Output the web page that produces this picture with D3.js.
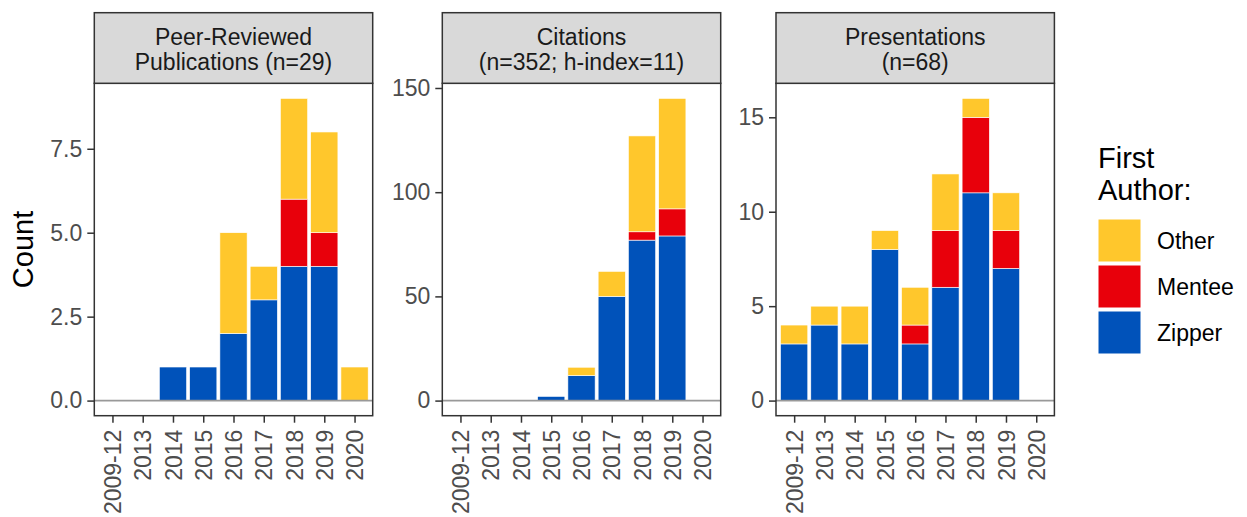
<!DOCTYPE html>
<html>
<head>
<meta charset="utf-8">
<script src="https://cdn.jsdelivr.net/npm/d3@7"></script>
<style>
  body { margin: 0; background: #fff; }
  svg { font-family: "Liberation Sans", Arial, sans-serif; display: block; }
</style>
</head>
<body>
<div id="viz"></div>
<script>
// Data
const years = ["2009-12", "2013", "2014", "2015", "2016", "2017", "2018", "2019", "2020"];
const authors = ["Zipper", "Mentee", "Other"]; // stacking order, bottom to top
const legendOrder = ["Other", "Mentee", "Zipper"];

const pubsZipper = [0, 0, 1, 1, 2, 3, 4, 4, 0];
const pubsMentee = [0, 0, 0, 0, 0, 0, 2, 1, 0];
const pubsOther  = [0, 0, 0, 0, 3, 1, 3, 3, 1];

const citesZipper = [0, 0, 0, 2, 12, 50, 77, 79, 0];
const citesMentee = [0, 0, 0, 0, 0, 0, 4, 13, 0];
const citesOther  = [0, 0, 0, 0, 4, 12, 46, 53, 0];

const presZipper = [3, 4, 3, 8, 3, 6, 11, 7, 0];
const presMentee = [0, 0, 0, 0, 1, 3, 4, 2, 0];
const presOther  = [1, 1, 2, 1, 2, 3, 1, 2, 0];

const pubsTicks = [0, 2.5, 5, 7.5];
const citesTicks = [0, 50, 100, 150];
const presTicks = [0, 5, 10, 15];

const facetTitles = [
    ["Peer-Reviewed", "Publications (n=29)"],
    ["Citations", "(n=352; h-index=11)"],
    ["Presentations", "(n=68)"]
];

const colors = { Other: "#FFC72C", Mentee: "#E8000B", Zipper: "#0052BA" };

const panels = [
    { title: facetTitles[0], series: { Zipper: pubsZipper, Mentee: pubsMentee, Other: pubsOther }, ticks: pubsTicks, fmt: d3.format(".1f") },
    { title: facetTitles[1], series: { Zipper: citesZipper, Mentee: citesMentee, Other: citesOther }, ticks: citesTicks, fmt: d3.format("d") },
    { title: facetTitles[2], series: { Zipper: presZipper, Mentee: presMentee, Other: presOther }, ticks: presTicks, fmt: d3.format("d") }
];

// Layout
const W = 1247, H = 517;
const panelLefts = [94.3, 442.3, 776];
const panelW = 278.4;
const stripTop = 12.7, plotTop = 83.3, plotBottom = 415.7;
const tickFont = 23;

const svg = d3.select("#viz").append("svg")
    .attr("width", W).attr("height", H);

panels.forEach((p, pi) => {
    const left = panelLefts[pi];
    const g = svg.append("g");

    const rows = years.map((y, i) => {
        const r = { year: y };
        authors.forEach(a => r[a] = p.series[a][i]);
        return r;
    });
    const stacked = d3.stack().keys(authors)(rows);
    const maxV = d3.max(rows, r => d3.sum(authors, a => r[a]));

    const x = d3.scalePoint().domain(years).range([left, left + panelW]).padding(0.6);
    const y = d3.scaleLinear().domain([-0.05 * maxV, 1.05 * maxV]).range([plotBottom, plotTop]);
    const bw = x.step() * 0.9;

    // panel background
    g.append("rect")
        .attr("x", left).attr("y", plotTop)
        .attr("width", panelW).attr("height", plotBottom - plotTop)
        .attr("fill", "#fff");

    // bars
    g.selectAll(".layer")
        .data(stacked)
        .join("g")
        .attr("fill", d => colors[d.key])
        .selectAll("rect")
        .data(d => d.filter(s => s[1] - s[0] > 0))
        .join("rect")
        .attr("x", d => x(d.data.year) - bw / 2)
        .attr("width", bw)
        .attr("y", d => y(d[1]))
        .attr("height", d => y(d[0]) - y(d[1]))
        .attr("stroke", "#fff")
        .attr("stroke-width", 0.6);

    // zero line
    g.append("line")
        .attr("x1", left).attr("x2", left + panelW)
        .attr("y1", y(0)).attr("y2", y(0))
        .attr("stroke", "#999").attr("stroke-width", 1.6);

    // panel border
    g.append("rect")
        .attr("x", left).attr("y", plotTop)
        .attr("width", panelW).attr("height", plotBottom - plotTop)
        .attr("fill", "none").attr("stroke", "#333").attr("stroke-width", 1.5);

    // strip
    g.append("rect")
        .attr("x", left).attr("y", stripTop)
        .attr("width", panelW).attr("height", plotTop - stripTop)
        .attr("fill", "#D9D9D9").attr("stroke", "#333").attr("stroke-width", 1.5);
    g.append("text")
        .attr("x", left + panelW / 2).attr("y", stripTop + 32)
        .attr("text-anchor", "middle")
        .style("font-size", tickFont + "px").attr("fill", "#1A1A1A")
        .text(p.title[0]);
    g.append("text")
        .attr("x", left + panelW / 2).attr("y", stripTop + 57)
        .attr("text-anchor", "middle")
        .style("font-size", tickFont + "px").attr("fill", "#1A1A1A")
        .text(p.title[1]);

    // y axis
    const yAxis = g.append("g")
        .attr("transform", `translate(${left},0)`)
        .call(d3.axisLeft(y).tickValues(p.ticks).tickFormat(p.fmt).tickSize(7).tickPadding(5));
    yAxis.select(".domain").remove();
    yAxis.selectAll("line").attr("stroke", "#333").attr("stroke-width", 1.5);
    yAxis.selectAll("text").attr("fill", "#4D4D4D").style("font-size", tickFont + "px")
        .attr("font-family", null);

    // x axis
    const xAxis = g.append("g")
        .attr("transform", `translate(0,${plotBottom})`)
        .call(d3.axisBottom(x).tickSize(7).tickPadding(6));
    xAxis.select(".domain").remove();
    xAxis.selectAll("line").attr("stroke", "#333").attr("stroke-width", 1.5);
    xAxis.selectAll("text")
        .attr("fill", "#4D4D4D").style("font-size", tickFont + "px")
        .attr("font-family", null)
        .attr("transform", "rotate(-90)")
        .attr("text-anchor", "end")
        .attr("x", -14).attr("y", 0).attr("dy", "0.35em");
});

// y axis title
svg.append("text")
    .attr("transform", `translate(33,${(plotTop + plotBottom) / 2}) rotate(-90)`)
    .attr("text-anchor", "middle")
    .style("font-size", "29px")
    .text("Count");

// legend
const legend = svg.append("g").attr("transform", "translate(1098,0)");
legend.append("text").attr("x", 0).attr("y", 168).style("font-size", "29px").text("First");
legend.append("text").attr("x", 0).attr("y", 200).style("font-size", "29px").text("Author:");

legend.selectAll(".key")
    .data(legendOrder)
    .join("rect")
    .attr("x", 0)
    .attr("y", (d, i) => 219 + i * 46)
    .attr("width", 43).attr("height", 43)
    .attr("fill", d => colors[d])
    .attr("stroke", "#fff").attr("stroke-width", 1);

legend.selectAll(".lab")
    .data(legendOrder)
    .join("text")
    .attr("x", 59)
    .attr("y", (d, i) => 219 + i * 46 + 21.5)
    .attr("dy", "0.35em")
    .style("font-size", "23px")
    .text(d => d);
</script>
</body>
</html>
